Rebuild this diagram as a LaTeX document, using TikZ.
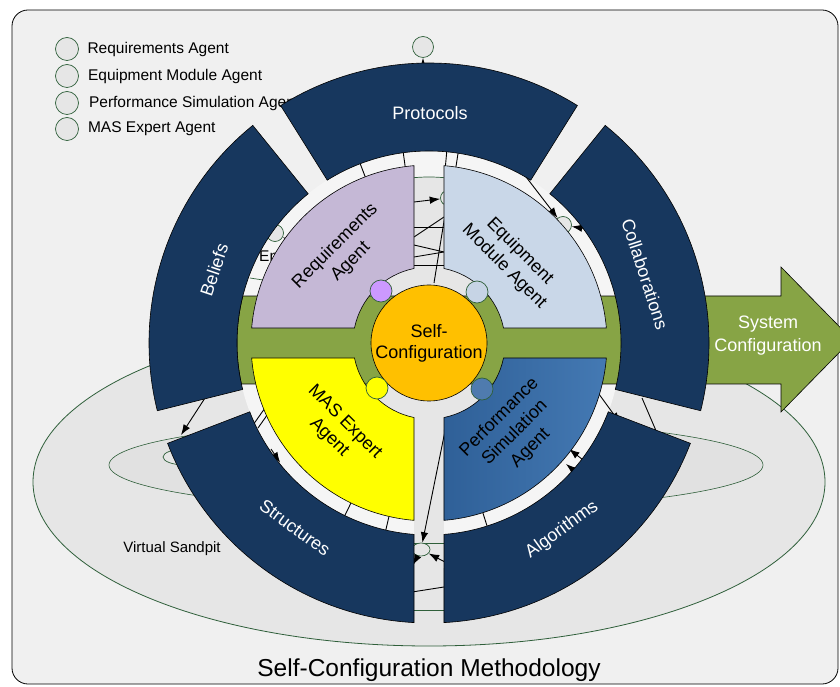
\documentclass[tikz,border=0pt]{standalone}
\usepackage{fontspec}
\setmainfont{Liberation Sans}
\usetikzlibrary{positioning, shapes.geometric, arrows.meta}
\definecolor{scback}{HTML}{F0F0F0}
\definecolor{scgray}{HTML}{E6E6E6}
\definecolor{scgrayb}{HTML}{E1E1E1}
\definecolor{scwhite}{HTML}{F5F5F5}
\definecolor{scline}{HTML}{2F5F3A}
\definecolor{scnavy}{HTML}{17375E}
\definecolor{scolive}{HTML}{87A445}
\definecolor{screq}{HTML}{C5B8D6}
\definecolor{scequip}{HTML}{C9D7E8}
\definecolor{scmas}{HTML}{FFFF00}
\definecolor{scperfd}{HTML}{2F6098}
\definecolor{scperfl}{HTML}{4479B3}
\definecolor{sccore}{HTML}{FFC000}
\definecolor{scviolet}{HTML}{CC99FF}
\definecolor{scsteel}{HTML}{4F7BAE}
\definecolor{scpale}{HTML}{C6D4E5}

\begin{document}
\begin{tikzpicture}[x=1pt, y=1pt, >={Latex[length=10.5pt, width=7.5pt]},
    every node/.style={font=\fontsize{18}{22}\selectfont},
    agent/.style={circle, draw=scline, fill=scgray, line width=0.7pt, inner sep=0pt, minimum size=17pt},
    legtext/.style={inner sep=0pt, font=\fontsize{15.5}{18}\selectfont},
    ring/.style={draw=black, fill=scnavy, line width=0.6pt},
    sector/.style={draw=black, line width=0.6pt},
    link/.style={black, line width=0.9pt}]

\useasboundingbox (0,0) rectangle (840,686);

% Frame
\node[draw, fill=scback, rounded corners=16pt, line width=0.8pt, minimum width=826pt, minimum height=674pt, inner sep=0pt] (frame) at (425,339) {};

% Legend
\node[agent, minimum size=23pt] (lg1) at (67,637) {};
\node[agent, minimum size=23pt] (lg2) at (67,610) {};
\node[agent, minimum size=23pt] (lg3) at (67,583) {};
\node[agent, minimum size=23pt] (lg4) at (67,557) {};
\node[legtext, right=8.5pt of lg1] (lt1) {Requirements Agent};
\node[legtext, right=9pt of lg2] (lt2) {Equipment Module Agent};
\node[legtext, right=10pt of lg3] (lt3) {Performance Simulation Agent};
\node[legtext, right=9pt of lg4] (lt4) {MAS Expert Agent};

% Agent above the wheel
\node[agent, minimum size=21pt] (topag) at (423,639) {};
\coordinate (topin) at (423,612);
\draw[link, ->] (topin) -- (topag);

% Title
\node[anchor=base, font=\fontsize{24.5}{28}\selectfont] (title) at (429,9.5) {Self-Configuration Methodology};

\begin{scope}[shift={(429,343)}]
    % Virtual sandpit
    \filldraw[fill=scgray, draw=scline, line width=0.8pt] (0,-139) ellipse [x radius=396, y radius=164];
    \filldraw[fill=scgrayb, draw=scline, line width=0.6pt] (7,-122) ellipse [x radius=327, y radius=45];
    \node[agent, ellipse, minimum width=44pt, minimum height=16pt] (sp1) at (-244,-114) {};
    \node[agent, ellipse, minimum width=26pt, minimum height=15pt] (sp2) at (-144,-127) {};
    \node[agent, ellipse, minimum width=34pt, minimum height=16pt] (sp3) at (231,-128) {};
    \node[font=\fontsize{15}{18}\selectfont] (sandpit) at (-257,-206) {Virtual Sandpit};

    % Wheel base
    \fill[scwhite] (0,0) circle [radius=192];
    \filldraw[fill=scgray, draw=scline, line width=0.7pt] (0,0) circle [radius=166];
    \fill[scgray] (-15,-60) rectangle (15,-192);
    \foreach \a in {81.3, 84.7, 97.7, 111, 244, 257, 287.6}
        \draw[link] (\a:178) -- (\a:192);

    % Bottom gap
    \draw[scline, line width=0.7pt] (-15,-200) -- (15,-200);
    \draw[scline, line width=0.7pt] (-15,-267) -- (15,-267);
    \draw[link] (-17,-249) -- (15,-244);
    \node[agent, ellipse, minimum width=18pt, minimum height=13pt] (sb) at (-8,-206.5) {};
    \coordinate (pf) at (16,-88);
    \coordinate (al) at (16,-219);
    \coordinate (sl) at (-16,-222);
    \draw[link, ->] (pf) -- (sb);
    \draw[link, ->] (al) -- (sb);
    \draw[link, ->] (sb) -- (sl);

    % Top gap
    \node[agent, minimum size=15pt] (ga) at (19,145) {};
    \coordinate (g1) at (-15,141);
    \draw[link, ->] (g1) -- (ga);
    \draw[link] (-15,116) -- (15,116);
    \draw[link] (-15,78) -- (15,78);
    \draw[link] (-15,106) -- (15,126);
    \draw[link] (-15,98) -- (15,91);
    \draw[link] (-15,86) -- (15,91);
    \draw[link] (5,60) -- (16,128);

    % Top right
    \node[agent] (cr) at (134,118) {};
    \coordinate (pa) at (94,170);
    \coordinate (pb) at (164,113);
    \draw[link, ->] (pa) -- (cr);
    \draw[link, ->] (pb) -- (cr);

    % Top left
    \node[agent] (el) at (-154,110) {};
    \coordinate (eb) at (-126,95);
    \draw[link, ->] (eb) -- (el);
    \node[anchor=west, inner sep=0pt, font=\fontsize{15.5}{18}\selectfont] (envt) at (-170,87) {En};
    \draw[scline, line width=0.7pt] (-179,65) -- (-166,63);

    % Bottom left
    \coordinate (bl1) at (-224,-55);
    \coordinate (bl2) at (-248,-92);
    \draw[link, ->] (bl1) -- (bl2);
    \draw[link] (-176,-82) -- (-164,-65);
    \draw[link] (-171,-85) -- (-159,-68);
    \coordinate (bl3) at (-158,-106);
    \draw[link, ->] (bl3) -- (sp2);

    % Bottom right
    \coordinate (br1) at (167,-47);
    \coordinate (br2) at (191,-80);
    \draw[link, ->] (br1) -- (br2);
    \coordinate (br3) at (213,-55);
    \coordinate (br4) at (228,-90);
    \draw[link] (br3) -- (br4);
    \coordinate (br5) at (158,-120);
    \coordinate (br6) at (140,-106);
    \draw[link, ->] (br5) -- (br6);
    \coordinate (br7) at (154,-135);
    \coordinate (br8) at (137,-121);
    \draw[link, ->] (br7) -- (br8);

    % Green band and output arrow
    \draw[fill=scolive, line width=0.6pt] (-187.6,-41) arc[start angle=192.33, end angle=165.83, radius=192]
        -- (352,47) -- (352,76) -- (423,3.5) -- (352,-69) -- (352,-41) -- cycle;
    \node[text=white, align=center, font=\fontsize{18}{23}\selectfont] (syscfg) at (339,7) {System\\Configuration};

    % Outer ring
    \draw[ring] (58:280) arc[start angle=58, end angle=122, radius=280] -- (122:192) arc[start angle=122, end angle=58, radius=192] -- cycle;
    \draw[ring] (129:280) arc[start angle=129, end angle=194, radius=280] -- (194:192) arc[start angle=194, end angle=129, radius=192] -- cycle;
    \draw[ring] (201:280) arc[start angle=201, end angle=266.93, radius=280] -- (265.52:192) arc[start angle=265.52, end angle=201, radius=192] -- cycle;
    \draw[ring] (273.07:280) arc[start angle=273.07, end angle=339, radius=280] -- (339:192) arc[start angle=339, end angle=274.48, radius=192] -- cycle;
    \draw[ring] (-14:280) arc[start angle=-14, end angle=51, radius=280] -- (51:192) arc[start angle=51, end angle=-14, radius=192] -- cycle;
    \node[text=white] (protocols) at (1,230) {Protocols};
    \node[text=white, rotate=71.5] (beliefs) at (-215,73) {Beliefs};
    \node[text=white, rotate=-36] (structures) at (-134,-185) {Structures};
    \node[text=white, rotate=36] (algorithms) at (133,-187) {Algorithms};
    \node[text=white, rotate=-72] (collab) at (216,69) {Collaborations};

    % Agent sectors
    \draw[sector, fill=scequip] (4.83:178) arc[start angle=4.83, end angle=85.17, radius=178] -- (78.62:76) arc[start angle=78.62, end angle=11.38, radius=76] -- cycle;
    \draw[sector, fill=screq] (94.83:178) arc[start angle=94.83, end angle=175.17, radius=178] -- (168.62:76) arc[start angle=168.62, end angle=101.38, radius=76] -- cycle;
    \draw[sector, fill=scmas] (184.83:178) arc[start angle=184.83, end angle=265.17, radius=178] -- (258.62:76) arc[start angle=258.62, end angle=191.38, radius=76] -- cycle;
    \draw[sector, left color=scperfd, right color=scperfl] (274.83:178) arc[start angle=274.83, end angle=355.17, radius=178] -- (348.62:76) arc[start angle=348.62, end angle=281.38, radius=76] -- cycle;
    \node[rotate=45, align=center] (req) at (-86,89) {Requirements\\Agent};
    \node[rotate=-45, align=center] (equip) at (83,84) {Equipment\\Module Agent};
    \node[rotate=-45, align=center] (mas) at (-92,-87) {MAS Expert\\Agent};
    \node[rotate=45, align=center] (perf) at (86,-90) {Performance\\Simulation\\Agent};

    % Core
    \node[circle, draw, fill=sccore, minimum size=116pt, inner sep=0pt, line width=0.6pt, align=center, font=\fontsize{18}{21}\selectfont] (core) at (0,0) {Self-\\Configuration};
    \node[agent, fill=scviolet, minimum size=22pt] (dreq) at (-48,52) {};
    \node[agent, fill=scpale, minimum size=22pt] (dequip) at (48,51) {};
    \node[agent, fill=scmas, minimum size=22pt] (dmas) at (-52,-45) {};
    \node[agent, fill=scsteel, minimum size=22pt] (dperf) at (53,-46) {};
\end{scope}
\end{tikzpicture}
\end{document}
